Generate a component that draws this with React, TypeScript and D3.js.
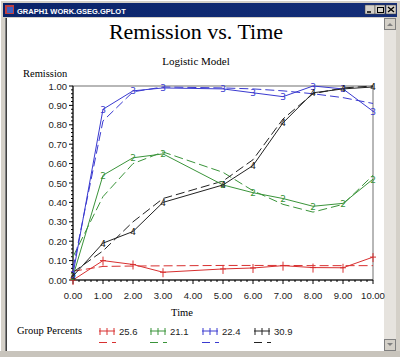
import React from "react";
import * as d3 from "d3";

const times = [0, 1, 2, 3, 5, 6, 7, 8, 9, 10];
const groups = ["25.6", "21.1", "22.4", "30.9"];
const colors = ["#d83030", "#3a943a", "#3a3ad0", "#222222"];
const markers = ["+", "2", "3", "4"];

const observed256 = [0.0, 0.1, 0.08, 0.04, 0.057, 0.062, 0.074, 0.064, 0.063, 0.118];
const observed211 = [0.02, 0.54, 0.63, 0.65, 0.49, 0.45, 0.42, 0.38, 0.395, 0.52];
const observed224 = [0.03, 0.88, 0.975, 0.99, 0.985, 0.965, 0.945, 1.0, 0.985, 0.87];
const observed309 = [0.02, 0.19, 0.25, 0.4, 0.49, 0.59, 0.81, 0.965, 0.985, 0.995];

const predicted256 = [0.045, 0.07, 0.072, 0.073, 0.075, 0.075, 0.075, 0.074, 0.074, 0.074];
const predicted211 = [0.12, 0.43, 0.6, 0.66, 0.555, 0.46, 0.39, 0.35, 0.39, 0.54];
const predicted224 = [0.06, 0.82, 0.97, 0.995, 0.99, 0.985, 0.975, 0.96, 0.94, 0.91];
const predicted309 = [0.04, 0.15, 0.3, 0.42, 0.51, 0.62, 0.83, 0.96, 0.99, 1.0];

const observedSeries = [observed256, observed211, observed224, observed309];
const predictedSeries = [predicted256, predicted211, predicted224, predicted309];

const xTicks = [0, 1, 2, 3, 4, 5, 6, 7, 8, 9, 10];
const yTicks = [0, 0.1, 0.2, 0.3, 0.4, 0.5, 0.6, 0.7, 0.8, 0.9, 1.0];

const W = 400;
const H = 357;
const plot = { left: 73, right: 373, top: 86, bottom: 280 };

function Marker({ kind, x, y, color }: { kind: string; x: number; y: number; color: string }) {
  if (kind === "+") {
    return (
      <g stroke={color} strokeWidth={1}>
        <line x1={x} y1={y - 4} x2={x} y2={y + 5} />
        <line x1={x - 3} y1={y} x2={x + 3} y2={y} />
      </g>
    );
  }
  return (
    <text x={x} y={y + 3.5} fill={color} fontSize={9} fontFamily="DejaVu Sans" textAnchor="middle">
      {kind}
    </text>
  );
}

export default function App() {
  const x = d3.scaleLinear().domain([0, 10]).range([plot.left, plot.right]);
  const y = d3.scaleLinear().domain([0, 1]).range([plot.bottom, plot.top]);
  const line = d3
    .line<number>()
    .x((_, i) => x(times[i]))
    .y((d) => y(d));

  const xMinor = d3.range(0, 10.001, 0.2).filter((v) => Math.abs(v - Math.round(v)) > 0.01);
  const yMinor = d3.range(0, 1.0001, 0.02).filter((v) => Math.abs(v * 10 - Math.round(v * 10)) > 0.01);

  const legendX = [99, 150, 202, 254];

  return (
    <svg
      width={W}
      height={H}
      style={{ position: "absolute", left: 0, top: 0, background: "#d4d0c8" }}
    >
      {/* window chrome */}
      <rect x={0} y={0} width={W} height={H} fill="#d4d0c8" />
      <line x1={0.5} y1={0} x2={0.5} y2={H} stroke="#ffffff" />
      <line x1={0} y1={0.5} x2={W} y2={0.5} stroke="#ffffff" />
      <defs>
        <linearGradient id="tb" x1="0" x2="1" y1="0" y2="0">
          <stop offset="0" stopColor="#0a246a" />
          <stop offset="1" stopColor="#142e78" />
        </linearGradient>
      </defs>
      <rect x={3} y={3} width={394} height={14} fill="url(#tb)" />
      <rect x={5} y={5} width={9} height={9} fill="#c04040" />
      <rect x={7} y={7} width={6} height={6} fill="#4060c0" />
      <text x={17} y={13.5} fill="#ffffff" fontSize={7.5} fontWeight="bold" fontFamily="Liberation Sans">
        GRAPH1  WORK.GSEG.GPLOT
      </text>
      {[365, 375, 386].map((bx, i) => (
        <g key={i}>
          <rect x={bx} y={5} width={10} height={9} fill="#d4d0c8" stroke="#404040" strokeWidth={0.5} />
        </g>
      ))}
      <line x1={367} y1={12} x2={371} y2={12} stroke="#000" strokeWidth={1.5} />
      <rect x={377.5} y={7.5} width={6} height={5} fill="none" stroke="#000" strokeWidth={1} />
      <path d="M388,7 L394,12 M394,7 L388,12" stroke="#000" strokeWidth={1.3} />

      {/* client area */}
      <rect x={5} y={18} width={379} height={333} fill="#ffffff" />
      <line x1={5.5} y1={18} x2={5.5} y2={351} stroke="#808080" />
      <line x1={6.5} y1={18} x2={6.5} y2={351} stroke="#404040" />
      {/* scrollbar */}
      <rect x={384} y={18} width={12} height={333} fill="#e6e3de" />
      <rect x={384.5} y={18.5} width={11} height={11} fill="#d4d0c8" stroke="#808080" />
      <path d="M387,26 L390,23 L393,26 Z" fill="#808080" />
      <rect x={384.5} y={339.5} width={11} height={11} fill="#d4d0c8" stroke="#808080" />
      <path d="M387,343 L390,346 L393,343 Z" fill="#808080" />
      <rect x={0} y={351} width={W} height={6} fill="#c8c4bc" />

      {/* titles */}
      <text x={196} y={39} textAnchor="middle" fontSize={22} fontFamily="Liberation Serif" fill="#000">
        Remission  vs.  Time
      </text>
      <text x={196} y={65} textAnchor="middle" fontSize={11} fontFamily="Liberation Serif" fill="#000">
        Logistic Model
      </text>
      <text x={23} y={77} fontSize={10.5} fontFamily="Liberation Serif" fill="#000">
        Remission
      </text>

      {/* frame */}
      <rect
        x={plot.left}
        y={plot.top}
        width={plot.right - plot.left}
        height={plot.bottom - plot.top}
        fill="none"
        stroke="#707070"
        strokeWidth={1}
      />
      <line x1={plot.left} y1={plot.top} x2={plot.left} y2={plot.bottom} stroke="#000" />
      <line x1={plot.left} y1={plot.bottom} x2={plot.right} y2={plot.bottom} stroke="#000" />

      {/* y axis ticks */}
      {yTicks.map((t) => (
        <g key={"y" + t}>
          <line x1={plot.left - 4} x2={plot.left} y1={y(t)} y2={y(t)} stroke="#000" />
          <text
            x={plot.left - 6}
            y={y(t) + 3.5}
            textAnchor="end"
            fontSize={9.5}
            fontFamily="Liberation Sans"
            fill="#222"
          >
            {t.toFixed(2)}
          </text>
        </g>
      ))}
      {yMinor.map((t) => (
        <line key={"ym" + t} x1={plot.left - 2} x2={plot.left} y1={y(t)} y2={y(t)} stroke="#000" />
      ))}

      {/* x axis ticks */}
      {xTicks.map((t) => (
        <g key={"x" + t}>
          <line x1={x(t)} x2={x(t)} y1={plot.bottom} y2={plot.bottom + 4} stroke="#000" />
          <text
            x={x(t)}
            y={299}
            textAnchor="middle"
            fontSize={9.5}
            fontFamily="Liberation Sans"
            fill="#222"
          >
            {t.toFixed(2)}
          </text>
        </g>
      ))}
      {xMinor.map((t) => (
        <line key={"xm" + t} x1={x(t)} x2={x(t)} y1={plot.bottom} y2={plot.bottom + 2} stroke="#000" />
      ))}
      <text x={182} y={316} textAnchor="middle" fontSize={10.5} fontFamily="Liberation Serif" fill="#000">
        Time
      </text>

      {/* predicted dashed */}
      {predictedSeries.map((s, i) => (
        <path
          key={"p" + i}
          d={line(s) || ""}
          fill="none"
          stroke={colors[i]}
          strokeWidth={1}
          strokeDasharray="9,4"
        />
      ))}
      {/* observed solid */}
      {observedSeries.map((s, i) => (
        <g key={"o" + i}>
          <path d={line(s) || ""} fill="none" stroke={colors[i]} strokeWidth={1} />
          {s.map((v, j) => (
            <Marker key={j} kind={markers[i]} x={x(times[j])} y={y(v)} color={colors[i]} />
          ))}
        </g>
      ))}

      {/* legend */}
      <text x={17} y={334} fontSize={10.5} fontFamily="Liberation Serif" fill="#000">
        Group  Percents
      </text>
      {groups.map((g, i) => (
        <g key={"l" + i}>
          <line x1={legendX[i]} x2={legendX[i] + 16} y1={331} y2={331} stroke={colors[i]} />
          {[0, 7, 14].map((o) => (
            <line
              key={o}
              x1={legendX[i] + 1 + o}
              x2={legendX[i] + 1 + o}
              y1={328}
              y2={335}
              stroke={colors[i]}
            />
          ))}
          <text x={legendX[i] + 20} y={334.5} fontSize={9.5} fontFamily="Liberation Sans" fill="#222">
            {g}
          </text>
          <line
            x1={legendX[i]}
            x2={legendX[i] + 17}
            y1={342.5}
            y2={342.5}
            stroke={colors[i]}
            strokeDasharray="8,5"
          />
        </g>
      ))}
    </svg>
  );
}
